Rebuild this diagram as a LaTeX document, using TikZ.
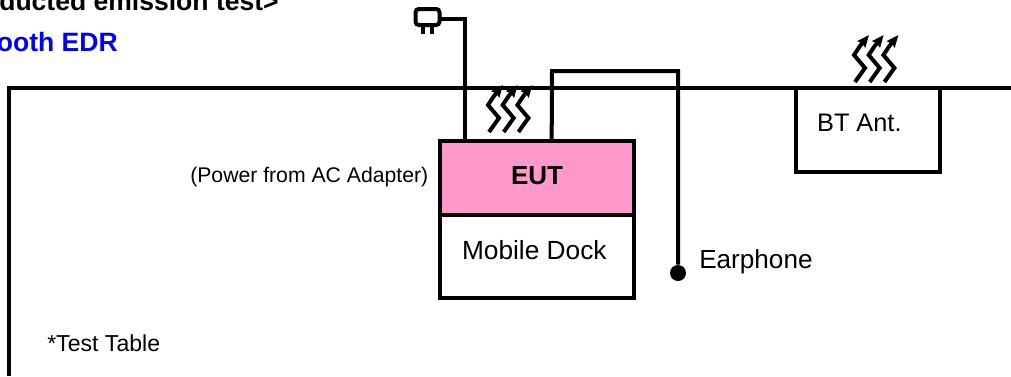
\documentclass[tikz,border=0pt]{standalone}
\usepackage{fontspec}
\usetikzlibrary{positioning,arrows.meta}
\setmainfont{Liberation Sans}
\definecolor{eutpink}{RGB}{255,153,204}
\tikzset{
  unitbox/.style={draw,line width=3pt,outer sep=0pt,inner sep=0pt,minimum width=146pt},
  cable/.style={line width=3pt,line join=miter},
  wave/.style={line width=3pt,-{Stealth[length=9pt,width=7.5pt,inset=1pt]}},
  caption/.style={inner sep=0pt,anchor=base west},
  heading/.style={inner sep=0pt,font=\fontsize{19.9}{22}\selectfont\bfseries}
}
\newcommand{\rfwaves}[2]{%
  \foreach \n in {0,1,2} {
    \draw[wave,shift={({#1+14.7*\n},#2)}] (0,0) -- (10,-14) -- (-1,-27) -- (5,-36) -- (14,-47);
  }
}
\begin{document}
\begin{tikzpicture}[x=0.75pt,y=-0.75pt]
  \useasboundingbox (0,0) rectangle (1011,376);
  % table edge
  \coordinate (tablecorner) at (9,88);
  \coordinate (tableleft) at (9,376);
  \coordinate (tableright) at (1011,88);
  \draw[line width=2.7pt] (tableleft) -- (tablecorner) -- (tableright);
  % boxes
  \node[unitbox,fill=eutpink,minimum height=55.5pt,font=\fontsize{19.5}{22}\selectfont\bfseries,text depth=3pt] (eut) at (537,178) {EUT};
  \node[unitbox,minimum height=62pt,below=0pt of eut,font=\fontsize{19.7}{22}\selectfont,text depth=9.5pt] (dock) {Mobile Dock\kern4pt};
  \node[unitbox,minimum width=108pt,minimum height=63pt,font=\fontsize{19}{22}\selectfont,text depth=11pt] (ant) at (868,130) {BT Ant.\kern13pt};
  \node[draw,line width=3pt,rounded corners=2.5pt,minimum width=18pt,minimum height=12pt,inner sep=0pt,outer sep=0pt] (plug) at (427.5,17) {};
  \coordinate (prongl) at (423,26);
  \coordinate (prongle) at (423,34);
  \coordinate (prongr) at (432,26);
  \coordinate (prongre) at (432,34);
  \draw[line width=2.6pt] (prongl) -- (prongle);
  \draw[line width=2.6pt] (prongr) -- (prongre);
  \node[circle,fill=black,inner sep=0pt,minimum size=12pt] (phone) at (678,273) {};
  % cables
  \draw[cable] ([yshift=-1.5pt]plug.east) -| ([xshift=19pt]eut.north west);
  \coordinate (phonebend) at (552,71);
  \draw[cable] ([xshift=84pt]eut.north west) -- (phonebend) -| (phone);
  % radiation
  \rfwaves{489}{132}
  \rfwaves{855}{82}
  % labels
  \node[caption,font=\fontsize{15.9}{18}\selectfont] (power) at (190,182) {(Power from AC Adapter)};
  \node[caption,font=\fontsize{19.6}{22}\selectfont] (earphone) at (699,268) {Earphone};
  \node[caption,font=\fontsize{17.3}{20}\selectfont] (table) at (47,351) {*Test Table};
  \node[heading,anchor=base east] (title) at (279,10) {ducted emission test>};
  \node[heading,anchor=base east,text=blue] (mode) at (118,51) {ooth EDR};
\end{tikzpicture}
\end{document}
